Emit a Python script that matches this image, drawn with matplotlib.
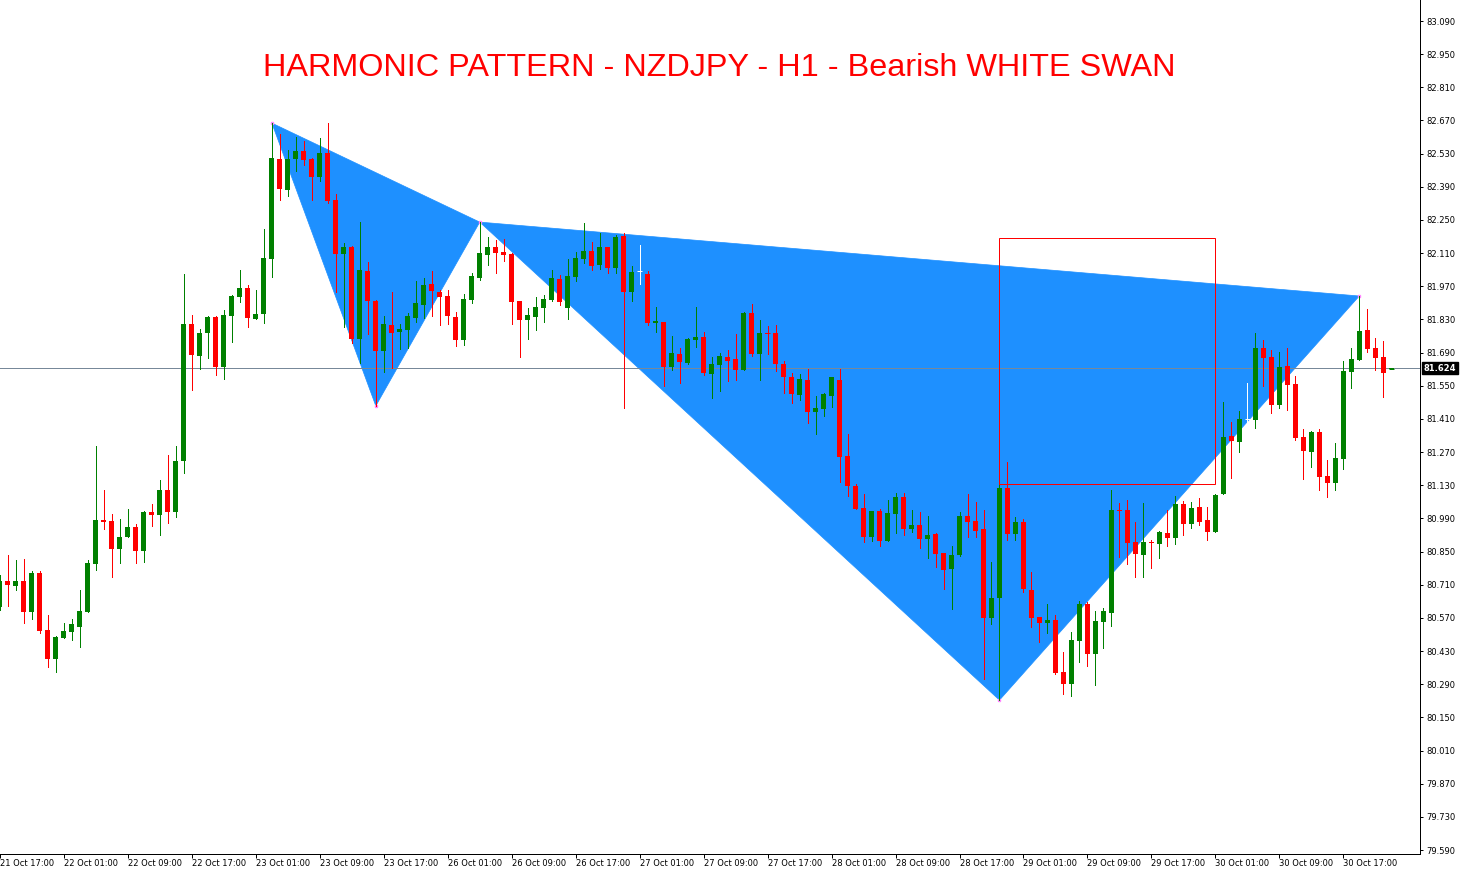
import matplotlib
matplotlib.use("Agg")
import matplotlib.pyplot as plt
from matplotlib.patches import Polygon, Rectangle
import numpy as np

# ---------------- data (NZDJPY H1) ----------------
opens = [80.617, 80.726, 80.705, 80.726, 80.595, 80.760, 80.519, 80.397, 80.485, 80.511,
         80.532, 80.595, 80.798, 80.983, 80.979, 80.861, 80.912, 80.954, 80.852, 81.017,
         81.005, 81.110, 81.017, 81.233, 81.811, 81.676, 81.773, 81.840, 81.629, 81.845,
         81.925, 81.963, 81.832, 81.853, 82.085, 82.508, 82.376, 82.507, 82.541, 82.507,
         82.431, 82.533, 82.334, 82.106, 82.136, 81.748, 82.035, 81.908, 81.697, 81.807,
         81.777, 81.786, 81.836, 81.891, 81.980, 81.946, 81.929, 81.840, 81.743, 81.912,
         82.005, 82.102, 82.136, 82.115, 82.106, 81.908, 81.828, 81.840, 81.878, 81.912,
         82.001, 81.878, 82.009, 82.085, 82.119, 82.060, 82.136, 82.047, 82.182, 81.946,
         82.035, 82.022, 81.815, 81.819, 81.629, 81.684, 81.646, 81.743, 81.756, 81.600,
         81.638, 81.672, 81.663, 81.617, 81.857, 81.684, 81.773, 81.773, 81.642, 81.587,
         81.511, 81.575, 81.439, 81.452, 81.507, 81.575, 81.254, 81.127, 81.034, 80.912,
         81.021, 80.895, 81.009, 81.081, 80.946, 80.962, 80.903, 80.924, 80.844, 80.777,
         80.836, 81.000, 80.979, 80.946, 80.570, 80.654, 81.119, 80.924, 80.975, 80.688,
         80.574, 80.549, 80.561, 80.342, 80.291, 80.473, 80.629, 80.418, 80.553, 80.591,
         81.026, 81.026, 80.890, 80.836, 80.890, 80.882, 80.928, 80.907, 81.051, 80.966,
         81.038, 80.983, 80.933, 81.093, 81.338, 81.313, 81.410, 81.406, 81.710, 81.672,
         81.469, 81.634, 81.558, 81.334, 81.271, 81.355, 81.169, 81.140, 81.241, 81.608,
         81.659, 81.786, 81.710, 81.672, 81.622]
highs = [80.751, 80.836, 80.815, 80.819, 80.768, 80.768, 80.582, 80.494, 80.549, 80.565,
         80.688, 80.815, 81.296, 81.110, 81.009, 80.988, 81.030, 80.966, 81.021, 81.051,
         81.152, 81.258, 81.296, 82.022, 81.849, 81.790, 81.845, 81.845, 81.870, 81.933,
         82.039, 81.975, 81.954, 82.212, 82.659, 82.613, 82.545, 82.600, 82.583, 82.512,
         82.596, 82.659, 82.360, 82.153, 82.140, 82.241, 82.073, 81.912, 81.845, 81.946,
         81.811, 81.857, 81.992, 82.005, 82.035, 81.954, 81.954, 81.862, 81.938, 82.026,
         82.241, 82.178, 82.165, 82.170, 82.111, 81.908, 81.878, 81.925, 81.933, 82.039,
         82.018, 82.085, 82.115, 82.237, 82.157, 82.195, 82.136, 82.187, 82.195, 82.056,
         82.144, 82.035, 81.883, 81.819, 81.760, 81.710, 81.752, 81.883, 81.777, 81.672,
         81.688, 81.701, 81.769, 81.862, 81.895, 81.828, 81.802, 81.807, 81.655, 81.604,
         81.600, 81.621, 81.507, 81.520, 81.587, 81.621, 81.347, 81.135, 81.093, 81.021,
         81.030, 81.068, 81.097, 81.097, 81.026, 81.017, 81.000, 80.928, 80.844, 80.874,
         81.017, 81.093, 81.059, 81.026, 80.806, 81.135, 81.228, 80.996, 80.988, 80.764,
         80.574, 80.629, 80.582, 80.426, 80.511, 80.641, 80.637, 80.599, 80.612, 81.110,
         81.055, 81.068, 80.975, 81.055, 80.899, 80.937, 81.026, 81.085, 81.064, 81.059,
         81.076, 81.038, 81.093, 81.482, 81.397, 81.444, 81.562, 81.773, 81.743, 81.701,
         81.693, 81.710, 81.591, 81.368, 81.359, 81.368, 81.237, 81.309, 81.655, 81.710,
         81.929, 81.874, 81.752, 81.739, 81.626]
lows = [80.603, 80.620, 80.688, 80.549, 80.565, 80.506, 80.363, 80.342, 80.485, 80.477,
        80.447, 80.595, 80.773, 80.946, 80.743, 80.802, 80.912, 80.802, 80.806, 80.958,
        80.920, 80.971, 80.996, 81.182, 81.532, 81.621, 81.667, 81.596, 81.579, 81.735,
        81.904, 81.798, 81.832, 81.815, 82.009, 82.334, 82.351, 82.457, 82.482, 82.334,
        82.415, 82.322, 81.946, 81.798, 81.731, 81.646, 81.769, 81.465, 81.608, 81.625,
        81.705, 81.710, 81.819, 81.836, 81.845, 81.807, 81.811, 81.718, 81.722, 81.900,
        81.997, 82.060, 82.026, 82.077, 81.811, 81.672, 81.748, 81.786, 81.819, 81.908,
        81.891, 81.832, 81.992, 82.068, 82.039, 82.043, 82.026, 82.026, 81.456, 81.908,
        81.980, 81.807, 81.777, 81.549, 81.617, 81.562, 81.642, 81.714, 81.596, 81.499,
        81.528, 81.570, 81.575, 81.617, 81.676, 81.575, 81.684, 81.613, 81.520, 81.477,
        81.490, 81.393, 81.347, 81.423, 81.460, 81.144, 81.085, 81.030, 80.890, 80.895,
        80.874, 80.895, 80.928, 80.920, 80.933, 80.865, 80.823, 80.785, 80.692, 80.608,
        80.831, 80.912, 80.912, 80.312, 80.545, 80.223, 80.899, 80.899, 80.679, 80.532,
        80.468, 80.506, 80.333, 80.249, 80.240, 80.384, 80.367, 80.287, 80.443, 80.536,
        80.827, 80.798, 80.743, 80.743, 80.781, 80.823, 80.874, 80.882, 80.920, 80.950,
        80.962, 80.899, 80.933, 81.093, 81.161, 81.271, 81.397, 81.372, 81.549, 81.435,
        81.456, 81.448, 81.321, 81.157, 81.207, 81.110, 81.081, 81.110, 81.199, 81.541,
        81.659, 81.693, 81.617, 81.503, 81.620]
closes = [80.726, 80.709, 80.726, 80.595, 80.760, 80.515, 80.397, 80.489, 80.515, 80.545,
          80.599, 80.802, 80.983, 80.975, 80.861, 80.912, 80.954, 80.852, 81.017, 81.005,
          81.110, 81.017, 81.233, 81.811, 81.680, 81.773, 81.840, 81.629, 81.849, 81.929,
          81.963, 81.836, 81.853, 82.089, 82.512, 82.381, 82.507, 82.541, 82.503, 82.431,
          82.533, 82.330, 82.106, 82.136, 81.748, 82.039, 81.908, 81.697, 81.811, 81.773,
          81.790, 81.845, 81.900, 81.975, 81.950, 81.925, 81.845, 81.743, 81.916, 82.013,
          82.111, 82.136, 82.111, 82.102, 81.904, 81.828, 81.849, 81.883, 81.916, 82.005,
          81.904, 82.013, 82.089, 82.119, 82.056, 82.136, 82.047, 82.178, 81.946, 82.030,
          82.035, 81.815, 81.824, 81.629, 81.688, 81.650, 81.748, 81.756, 81.604, 81.642,
          81.676, 81.655, 81.617, 81.857, 81.684, 81.773, 81.769, 81.642, 81.587, 81.515,
          81.579, 81.439, 81.456, 81.515, 81.587, 81.249, 81.127, 81.030, 80.912, 81.021,
          80.895, 81.013, 81.081, 80.946, 80.962, 80.903, 80.920, 80.840, 80.773, 80.836,
          81.000, 80.975, 80.937, 80.570, 80.654, 81.119, 80.924, 80.975, 80.692, 80.570,
          80.549, 80.561, 80.337, 80.291, 80.477, 80.629, 80.418, 80.557, 80.599, 81.026,
          81.021, 80.886, 80.840, 80.890, 80.886, 80.933, 80.907, 81.051, 80.966, 81.034,
          80.975, 80.933, 81.089, 81.334, 81.317, 81.410, 81.410, 81.710, 81.667, 81.469,
          81.629, 81.553, 81.330, 81.275, 81.355, 81.165, 81.140, 81.245, 81.613, 81.663,
          81.781, 81.705, 81.667, 81.604, 81.624]

time_labels = ["21 Oct 17:00", "22 Oct 01:00", "22 Oct 09:00", "22 Oct 17:00",
               "23 Oct 01:00", "23 Oct 09:00", "23 Oct 17:00", "26 Oct 01:00",
               "26 Oct 09:00", "26 Oct 17:00", "27 Oct 01:00", "27 Oct 09:00",
               "27 Oct 17:00", "28 Oct 01:00", "28 Oct 09:00", "28 Oct 17:00",
               "29 Oct 01:00", "29 Oct 09:00", "29 Oct 17:00", "30 Oct 01:00",
               "30 Oct 09:00", "30 Oct 17:00"]
label_every = 8

price_ticks = ["83.090", "82.950", "82.810", "82.670", "82.530", "82.390", "82.250",
               "82.110", "81.970", "81.830", "81.690", "81.550", "81.410", "81.270",
               "81.130", "80.990", "80.850", "80.710", "80.570", "80.430", "80.290",
               "80.150", "80.010", "79.870", "79.730", "79.590"]

# harmonic pattern pivots X, A, B, C, D  (bar index, price)
pattern_idx = [34, 47, 60, 125, 170]
pattern_px = [82.659, 81.465, 82.241, 80.223, 81.929]

# target box (bar index range, price range)
box_idx = [125, 152]
box_px = [81.135, 82.174]

last_price = 81.624
title = "HARMONIC PATTERN - NZDJPY - H1 - Bearish WHITE SWAN"

# ---------------- styling ----------------
UP = "#008000"
DOWN = "#FF0000"
DOJI = "#FFFFFF"
FILL = "#1E90FF"
W, H = 1460, 871
DPI = 100
PX = 72.0 / DPI  # points per pixel

fig = plt.figure(figsize=(W / DPI, H / DPI), dpi=DPI)
fig.patch.set_facecolor("white")
ax = fig.add_axes([0, (H - 854) / H, 1420 / W, 854 / H])
ax.set_facecolor("white")

n = len(opens)
idx = np.arange(n)
o = np.array(opens); h = np.array(highs); l = np.array(lows); c = np.array(closes)

# pattern triangles
xa = [(pattern_idx[i], pattern_px[i]) for i in (0, 1, 2)]
bd = [(pattern_idx[i], pattern_px[i]) for i in (2, 3, 4)]
for tri in (xa, bd):
    ax.add_patch(Polygon(tri, closed=True, facecolor=FILL, edgecolor=FILL,
                         linewidth=0.5, zorder=1))
ax.plot(pattern_idx, pattern_px, linestyle="none", marker="s", markersize=1.6,
        color="#FF88FF", zorder=1.5)

# current price line
ax.axhline(last_price, color="#778899", linewidth=1 * PX, zorder=2)

# candles
colors = np.where(c > o, UP, np.where(c < o, DOWN, DOJI))
body_w = 5 / 8
ax.vlines(idx, l, h, colors=colors, linewidth=1 * PX, zorder=3, antialiased=False)
bottoms = np.minimum(o, c)
heights = np.abs(c - o)
ax.bar(idx, heights, width=body_w, bottom=bottoms, color=colors, edgecolor=colors,
       linewidth=0, zorder=4, antialiased=False)
doji = heights < 0.004
ax.hlines(o[doji], idx[doji] - body_w / 2, idx[doji] + body_w / 2, colors=colors[doji],
          linewidth=1 * PX, zorder=4)

# target rectangle
ax.add_patch(Rectangle((box_idx[0], box_px[0]), box_idx[1] - box_idx[0],
                       box_px[1] - box_px[0], fill=False, edgecolor=DOWN,
                       linewidth=1 * PX, zorder=5))

# axes limits (pixel mapping of the reference)
ax.set_xlim(0.0875, 177.59)
ax.set_ylim(79.5733, 83.1787)

# spines
for s in ("left", "top"):
    ax.spines[s].set_visible(False)
for s in ("right", "bottom"):
    ax.spines[s].set_color("black")
    ax.spines[s].set_linewidth(1 * PX)

# y ticks on right
yt = [float(t) for t in price_ticks]
ax.yaxis.tick_right()
ax.set_yticks(yt)
ax.set_yticklabels(price_ticks)
ax.tick_params(axis="y", direction="out", length=3 * PX, width=1 * PX,
               labelsize=6, pad=2.5, colors="black")

# x ticks
xt = list(range(0, n, label_every))[:len(time_labels)]
ax.set_xticks(xt)
ax.set_xticklabels(time_labels, ha="left")
ax.tick_params(axis="x", direction="out", length=4 * PX, width=1 * PX,
               labelsize=6, pad=1, colors="black")

# last price tag
ax.annotate(f"{last_price:.3f}", xy=(1.0, last_price), xycoords=("axes fraction", "data"),
            xytext=(2.5, 0), textcoords="offset points", ha="left", va="center",
            fontsize=6, color="white", fontweight="bold",
            bbox=dict(boxstyle="square,pad=0.2", facecolor="black", edgecolor="black"),
            zorder=10, annotation_clip=False)

fig.text(719.5 / W, 1 - 76 / H, title, ha="center", va="baseline", color="red",
         fontsize=23.3, family="Liberation Sans")

fig.savefig("out.png", dpi=DPI)
